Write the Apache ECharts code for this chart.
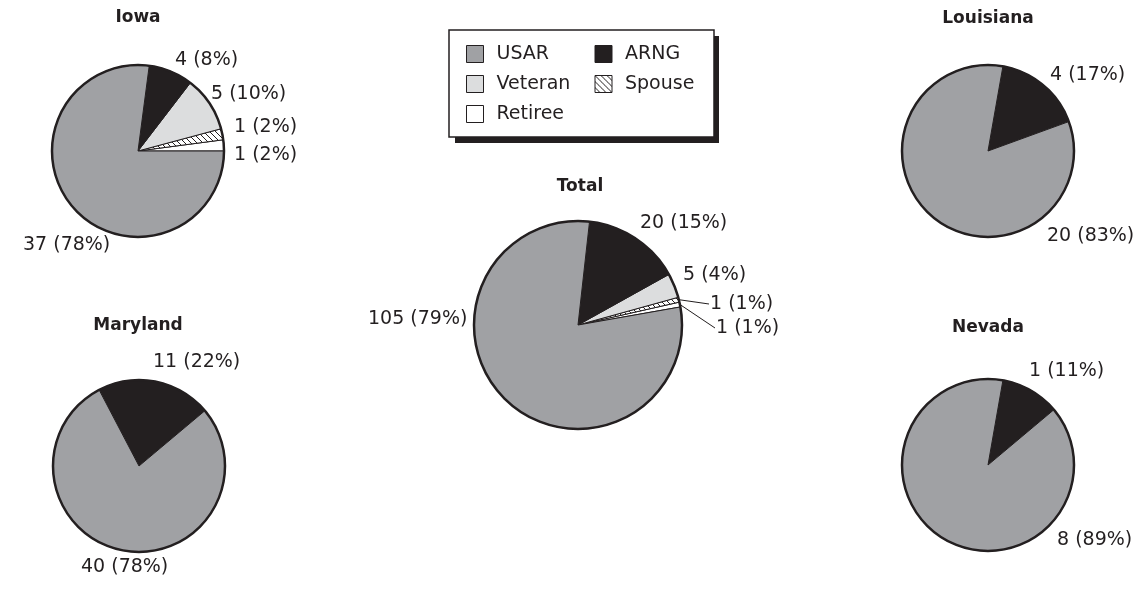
<!DOCTYPE html>
<html><head><meta charset="utf-8">
<script src="https://cdn.jsdelivr.net/npm/echarts@6/dist/echarts.min.js"></script>
<style>html,body{margin:0;padding:0;background:#fff}#c{width:1143px;height:591px}</style>
</head><body><div id="c"></div>
<script>
// ---- data ----
const categories = ['USAR', 'ARNG', 'Veteran', 'Spouse', 'Retiree'];
const totalValues = [105, 20, 5, 1, 1];
const totalPercents = [79, 15, 4, 1, 1];
const iowaValues = [37, 4, 5, 1, 1];
const iowaPercents = [78, 8, 10, 2, 2];
const louisianaValues = [20, 4, 0, 0, 0];
const louisianaPercents = [83, 17, 0, 0, 0];
const marylandValues = [40, 11, 0, 0, 0];
const marylandPercents = [78, 22, 0, 0, 0];
const nevadaValues = [8, 1, 0, 0, 0];
const nevadaPercents = [89, 11, 0, 0, 0];
const pieTitles = ['Total', 'Iowa', 'Louisiana', 'Maryland', 'Nevada'];

// ---- styles ----
const INK = '#231f20';
const FONT = 'DejaVu Sans';
function hatch() {
  const s = 6, c = document.createElement('canvas');
  c.width = c.height = s;
  const g = c.getContext('2d');
  g.fillStyle = '#fff'; g.fillRect(0, 0, s, s);
  g.strokeStyle = INK; g.lineWidth = 1;
  g.beginPath();
  g.moveTo(0, 0); g.lineTo(s, s);
  g.moveTo(-1, s - 1); g.lineTo(1, s + 1);
  g.moveTo(s - 1, -1); g.lineTo(s + 1, 1);
  g.stroke();
  return c;
}
const colors = {
  USAR: '#a0a1a4', ARNG: INK, Veteran: '#dcddde',
  Spouse: { image: hatch(), repeat: 'repeat' }, Retiree: '#ffffff'
};

// layout (positions only)
const legendBox = { x: 449, y: 30, w: 264, h: 107, shadow: 6 };
const layouts = {
  Total: { center: [578, 325], radius: 104, start: 10, title: [580, 187],
    labels: { USAR: [368, 319], ARNG: [640, 223], Veteran: [683, 275], Spouse: [710, 304], Retiree: [716, 328] },
    lines: { Spouse: true, Retiree: true } },
  Iowa: { center: [138, 151], radius: 86, start: 0, title: [138, 18],
    labels: { USAR: [23, 245], ARNG: [175, 60], Veteran: [211, 94], Spouse: [234, 127], Retiree: [234, 155] } },
  Louisiana: { center: [988, 151], radius: 86, start: 20, title: [988, 19],
    labels: { ARNG: [1050, 75], USAR: [1047, 236] } },
  Maryland: { center: [139, 466], radius: 86, start: 40, title: [138, 326],
    labels: { ARNG: [153, 362], USAR: [81, 567] } },
  Nevada: { center: [988, 465], radius: 86, start: 40, title: [988, 328],
    labels: { ARNG: [1029, 371], USAR: [1057, 540] } }
};

const order = [4, 3, 2, 1, 0]; // counter-clockwise: Retiree, Spouse, Veteran, ARNG, USAR

function pieSeries(key, values, percents) {
  const L = layouts[key];
  const lines = L.lines || {};
  const data = order.filter(i => values[i] > 0).map(i => ({
    name: categories[i], value: values[i], pct: percents[i],
    itemStyle: { color: colors[categories[i]] },
    labelLine: { show: !!lines[categories[i]] }
  }));
  const sum = data.reduce((a, d) => a + d.value, 0);
  let acc = 0;
  const mids = data.map(d => { const m = L.start + (acc + d.value / 2) / sum * 360; acc += d.value; return m; });
  return {
    type: 'pie', center: L.center, radius: L.radius, startAngle: L.start, clockwise: false,
    avoidLabelOverlap: false, silent: true, animation: false, data, z: 2,
    itemStyle: { borderColor: INK, borderWidth: 1 },
    emphasis: { disabled: true },
    label: {
      position: 'outside', fontFamily: FONT, fontSize: 19, color: INK,
      formatter: p => p.value + ' (' + p.data.pct + '%)'
    },
    labelLine: { show: false, length: 8, length2: 8, lineStyle: { color: INK, width: 1 } },
    labelLayout: function (p) {
      const name = data[p.dataIndex].name;
      const pos = L.labels[name];
      const r = { x: pos[0], y: pos[1], align: 'left', verticalAlign: 'middle' };
      if (lines[name]) {
        const a = mids[p.dataIndex] * Math.PI / 180;
        const sx = L.center[0] + L.radius * Math.cos(a);
        const sy = L.center[1] - L.radius * Math.sin(a);
        r.labelLinePoints = [[sx, sy], [pos[0] - 1, pos[1]]];
      }
      return r;
    }
  };
}
function outlineSeries(key, values) {
  const L = layouts[key];
  const sum = values.reduce((a, b) => a + b, 0);
  return {
    type: 'pie', center: L.center, radius: L.radius, silent: true, animation: false, z: 3,
    label: { show: false }, labelLine: { show: false }, emphasis: { disabled: true },
    itemStyle: { color: 'rgba(0,0,0,0)', borderColor: INK, borderWidth: 2.5 },
    data: [{ name: 'outline', value: sum }]
  };
}

const sets = {
  Total: [totalValues, totalPercents], Iowa: [iowaValues, iowaPercents],
  Louisiana: [louisianaValues, louisianaPercents], Maryland: [marylandValues, marylandPercents],
  Nevada: [nevadaValues, nevadaPercents]
};
const series = [];
pieTitles.forEach(k => series.push(pieSeries(k, sets[k][0], sets[k][1])));
pieTitles.forEach(k => series.push(outlineSeries(k, sets[k][0])));

const graphics = pieTitles.map(k => ({
  type: 'text', x: layouts[k].title[0], y: layouts[k].title[1], silent: true,
  style: { text: k, fontFamily: FONT, fontWeight: 'bold', fontSize: 17, fill: INK, align: 'center', verticalAlign: 'middle' }
}));
// legend drop shadow (solid offset block behind the legend box)
graphics.push({
  type: 'rect', silent: true, z: -1,
  shape: { x: legendBox.x + legendBox.shadow, y: legendBox.y + legendBox.shadow, width: legendBox.w, height: legendBox.h },
  style: { fill: INK }
});

const chart = echarts.init(document.getElementById('c'), null, { renderer: 'canvas' });
chart.setOption({
  backgroundColor: '#fff',
  animation: false,
  tooltip: { show: false },
  legend: {
    data: categories, left: legendBox.x, top: legendBox.y, width: 260, orient: 'horizontal',
    icon: 'rect', itemWidth: 17, itemHeight: 17, itemGap: 10,
    padding: [14, 1, 13, 17], selectedMode: false, z: 10,
    backgroundColor: '#fff', borderColor: INK, borderWidth: 1.5,
    itemStyle: { borderColor: INK, borderWidth: 1 },
    textStyle: { fontFamily: FONT, fontSize: 19, color: INK, width: 88, lineHeight: 20, padding: [0, 0, 0, 8] }
  },
  graphic: graphics,
  series
});
</script>
</body></html>
